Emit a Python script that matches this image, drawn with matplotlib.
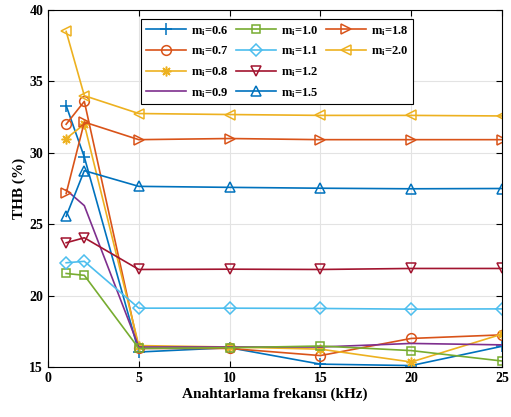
import matplotlib
matplotlib.use("Agg")
import matplotlib.pyplot as plt
from matplotlib.lines import Line2D

plt.rcParams['font.family'] = ['Liberation Serif', 'DejaVu Serif']
plt.rcParams['font.weight'] = 'bold'
plt.rcParams['mathtext.fontset'] = 'custom'
plt.rcParams['mathtext.rm'] = 'Liberation Serif:bold'
plt.rcParams['mathtext.it'] = 'Liberation Serif:bold'
plt.rcParams['mathtext.bf'] = 'Liberation Serif:bold'

freq = [1, 2, 5, 10, 15, 20, 25]
m_labels = ['0.6', '0.7', '0.8', '0.9', '1.0', '1.1', '1.2', '1.5', '1.8', '2.0']
thb_06 = [33.3, 29.7, 16.05, 16.35, 15.2, 15.1, 16.45]
thb_07 = [32.0, 33.6, 16.3, 16.3, 15.8, 17.0, 17.25]
thb_08 = [31.0, 32.0, 16.5, 16.4, 16.25, 15.35, 17.3]
thb_09 = [27.4, 26.3, 16.4, 16.4, 16.4, 16.65, 16.55]
thb_10 = [21.55, 21.42, 16.3, 16.35, 16.47, 16.15, 15.42]
thb_11 = [22.3, 22.4, 19.12, 19.12, 19.1, 19.05, 19.07]
thb_12 = [23.7, 24.05, 21.83, 21.85, 21.83, 21.9, 21.9]
thb_15 = [25.55, 28.75, 27.65, 27.58, 27.52, 27.48, 27.5]
thb_18 = [27.15, 32.15, 30.92, 31.0, 30.92, 30.92, 30.92]
thb_20 = [38.5, 34.0, 32.75, 32.68, 32.62, 32.62, 32.58]

series = [thb_06, thb_07, thb_08, thb_09, thb_10, thb_11, thb_12, thb_15, thb_18, thb_20]
colors = ['#0072BD', '#D95319', '#EDB120', '#7E2F8E', '#77AC30',
          '#4DBEEE', '#A2142F', '#0072BD', '#D95319', '#EDB120']
markers = ['+', 'o', (8, 2, 0), None, 's', 'D', 'v', '^', '>', '<']
msizes = [8, 7, 7, 0, 6, 6, 7.5, 7.5, 7.5, 7.5]

fig = plt.figure(figsize=(5.11, 4.17), dpi=100)
ax = fig.add_axes([48/511, 1 - 367/417, (502-48)/511, (367-10)/417])

handles = []
for y, c, mk, ms, lab in zip(series, colors, markers, msizes, m_labels):
    kw = dict(color=c, lw=1.2, label=r'm$_\mathregular{i}$=' + lab)
    if mk is not None:
        kw.update(marker=mk, markersize=ms, markerfacecolor='none',
                  markeredgewidth=1.1)
    h, = ax.plot(freq, y, **kw)
    handles.append(h)

ax.set_xlim(0, 25)
ax.set_ylim(15, 40)
ax.set_xticks([0, 5, 10, 15, 20, 25])
ax.set_yticks([15, 20, 25, 30, 35, 40])
ax.grid(True, color='#E3E3E3', lw=0.8)
ax.set_axisbelow(True)
ax.tick_params(direction='in', top=True, right=True, labelsize=10, length=4, width=0.8)
for s in ax.spines.values():
    s.set_linewidth(0.8)
ax.set_xlabel('Anahtarlama frekansı (kHz)', fontsize=11, fontweight='bold', labelpad=2)
ax.set_ylabel('THB (%)', fontsize=11, fontweight='bold', labelpad=2)

blank = Line2D([], [], lw=0, alpha=0)
leg_handles = handles + [blank, blank]
leg_labels = [h.get_label() for h in handles] + ['', '']
leg = ax.legend(leg_handles, leg_labels, ncol=3, loc='upper left',
                bbox_to_anchor=((141 - 48) / 454, (367 - 19) / 357), borderaxespad=0,
                fontsize=9, frameon=True, fancybox=False, framealpha=1,
                edgecolor='black', handlelength=3.2, columnspacing=0.6,
                labelspacing=0.55, handletextpad=0.4, borderpad=0.38)
leg.get_frame().set_linewidth(0.8)

fig.savefig('out.png', dpi=100)
